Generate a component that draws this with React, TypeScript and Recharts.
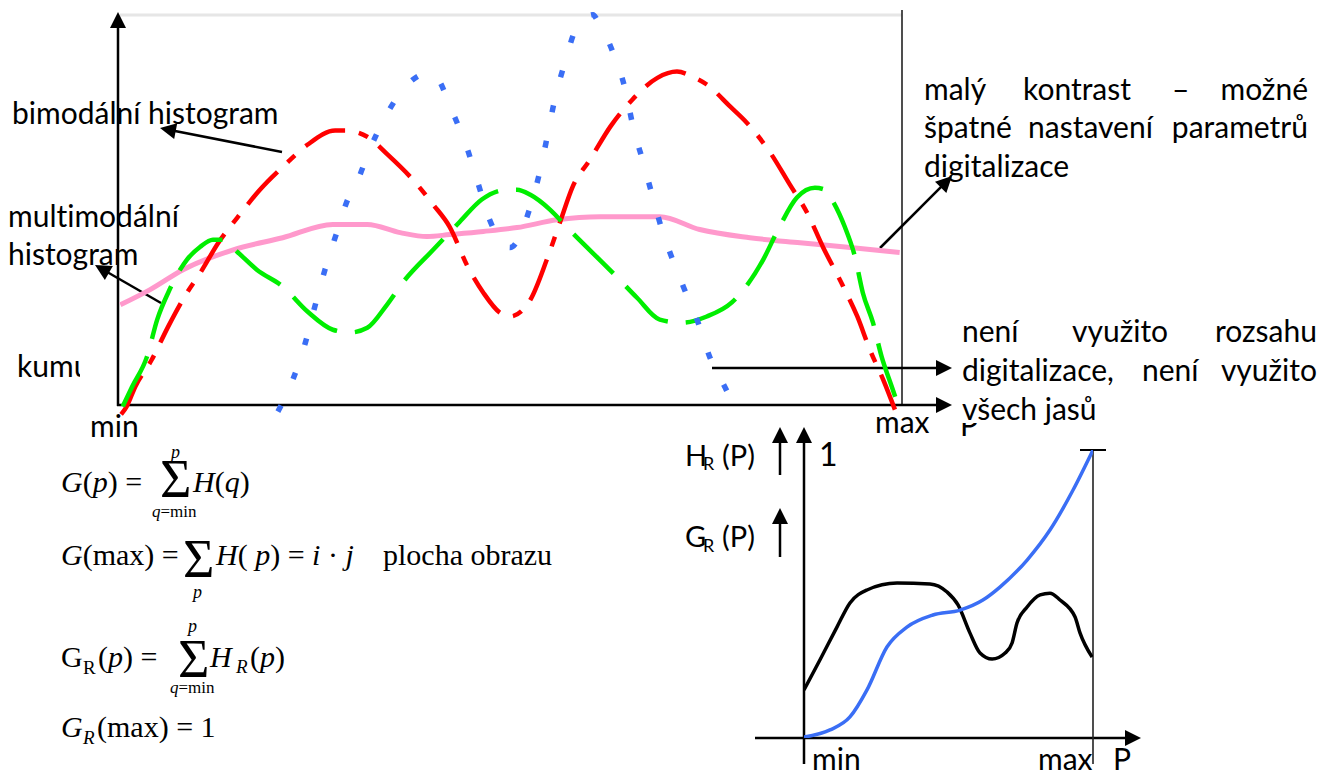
import React from 'react';
import { LineChart, Line, XAxis, YAxis } from 'recharts';

// ---- main histogram chart (x: brightness min..max as 0..100, y: frequency 0..100)
const redSeries = [
  { x: 0.4, y: -2.5 }, { x: 1.1, y: -0.5 }, { x: 2.2, y: 4.6 }, { x: 4.3, y: 11.5 }, { x: 6.4, y: 20 },
  { x: 8.8, y: 28.7 }, { x: 10.5, y: 33.8 }, { x: 12.8, y: 41.5 }, { x: 15.2, y: 47.9 }, { x: 18.1, y: 55.1 },
  { x: 21.3, y: 61.5 }, { x: 24.2, y: 66.7 }, { x: 27.7, y: 70.3 }, { x: 29, y: 70.3 }, { x: 31.8, y: 68.7 },
  { x: 34.4, y: 64.1 }, { x: 37.6, y: 57.7 }, { x: 40.2, y: 51.3 }, { x: 42.3, y: 45.6 }, { x: 44.6, y: 35.4 },
  { x: 46.6, y: 28.7 }, { x: 48.7, y: 23.6 }, { x: 50, y: 22.6 }, { x: 52.6, y: 26.9 }, { x: 54.7, y: 37.2 },
  { x: 56.4, y: 46.9 }, { x: 58, y: 55.9 }, { x: 60.2, y: 62.8 }, { x: 62.8, y: 71.3 }, { x: 65.6, y: 78.2 },
  { x: 68.8, y: 83.8 }, { x: 71.3, y: 85.4 }, { x: 73.3, y: 84.1 }, { x: 75.1, y: 82.1 }, { x: 78.1, y: 76.4 },
  { x: 80.2, y: 72.3 }, { x: 83.2, y: 64.6 }, { x: 85.7, y: 56.4 }, { x: 87.9, y: 49.2 }, { x: 89.9, y: 40.5 },
  { x: 92.5, y: 30.3 }, { x: 94.3, y: 22.6 }, { x: 95.9, y: 14.1 }, { x: 97.6, y: 6.4 }, { x: 99.1, y: -1.3 },
];

const blueSeries = [
  { x: 20.4, y: -1.8 }, { x: 22.3, y: 6.4 }, { x: 23.9, y: 15.9 }, { x: 25.1, y: 25.1 }, { x: 26.4, y: 34.6 },
  { x: 27.9, y: 44.1 }, { x: 29.3, y: 52.6 }, { x: 30.5, y: 57.2 }, { x: 32.1, y: 65.4 }, { x: 34.1, y: 73.8 },
  { x: 36.9, y: 82.1 }, { x: 39.8, y: 85.1 }, { x: 40.7, y: 83.8 }, { x: 42.7, y: 74.9 }, { x: 44.5, y: 65.9 },
  { x: 45.9, y: 56.9 }, { x: 47.4, y: 47.4 }, { x: 50, y: 40.3 }, { x: 52.6, y: 50.8 }, { x: 53.8, y: 59.7 },
  { x: 54.8, y: 69.2 }, { x: 55.7, y: 78.2 }, { x: 57, y: 87.7 }, { x: 58.5, y: 96.7 }, { x: 60.6, y: 100 },
  { x: 61.1, y: 98.7 }, { x: 63.1, y: 90.5 }, { x: 64.7, y: 80.8 }, { x: 65.7, y: 71.3 }, { x: 67, y: 62.1 },
  { x: 68.2, y: 53.3 }, { x: 69.5, y: 44.1 }, { x: 70.4, y: 39 }, { x: 72.1, y: 30.3 }, { x: 74, y: 21 },
  { x: 75.5, y: 12.1 }, { x: 77.7, y: 3.3 }, { x: 78.8, y: -1.8 },
];

const greenSeries = [
  { x: 0.6, y: -0.5 }, { x: 1.8, y: 4.6 }, { x: 3.7, y: 12.3 }, { x: 5, y: 21.8 }, { x: 6.4, y: 28.7 },
  { x: 8.8, y: 37.2 }, { x: 10.5, y: 40.5 }, { x: 12.1, y: 42.3 }, { x: 13.4, y: 42.3 }, { x: 15.2, y: 39.2 },
  { x: 17.7, y: 34.6 }, { x: 21, y: 30.3 }, { x: 24.2, y: 23.8 }, { x: 27.4, y: 19.2 }, { x: 29.6, y: 18.5 },
  { x: 31.8, y: 19.7 }, { x: 34.3, y: 25.6 }, { x: 36.4, y: 31.5 }, { x: 40.2, y: 39.7 }, { x: 43.6, y: 46.9 },
  { x: 46.4, y: 52.6 }, { x: 49.6, y: 55.1 }, { x: 50.9, y: 55.1 }, { x: 52.6, y: 53.8 }, { x: 55.1, y: 50 },
  { x: 57.3, y: 45.4 }, { x: 63.6, y: 32.8 }, { x: 66.2, y: 27.4 }, { x: 69.1, y: 21.8 }, { x: 71.9, y: 21 },
  { x: 75.1, y: 22.6 }, { x: 78.3, y: 26.2 }, { x: 82.3, y: 37.2 }, { x: 84.2, y: 44.9 }, { x: 86.6, y: 53.1 },
  { x: 88.9, y: 55.6 }, { x: 90.2, y: 55.1 }, { x: 91.2, y: 52.1 }, { x: 92.7, y: 45.6 }, { x: 94, y: 37.9 },
  { x: 95, y: 28.7 }, { x: 96.3, y: 21 }, { x: 97.4, y: 12.3 }, { x: 98.7, y: 4.6 }, { x: 99.7, y: -1.3 },
];

const pinkSeries = [
  { x: 0.3, y: 25.6 }, { x: 4.1, y: 29.5 }, { x: 8.3, y: 34.6 }, { x: 14.7, y: 39.7 }, { x: 21, y: 42.8 },
  { x: 27.4, y: 46.2 }, { x: 31.8, y: 46.2 }, { x: 36, y: 44.1 }, { x: 39.4, y: 43.1 }, { x: 42.3, y: 43.6 },
  { x: 46.6, y: 44.4 }, { x: 50.9, y: 45.4 }, { x: 56, y: 47.4 }, { x: 61.5, y: 48.2 }, { x: 69.1, y: 48.2 },
  { x: 74.2, y: 44.9 }, { x: 80.6, y: 42.8 }, { x: 87, y: 41.5 }, { x: 93.4, y: 40.3 }, { x: 99.7, y: 39 },
];

// ---- small chart: relative histogram H_R and cumulative G_R (x 0..100, y 0..1)
const hrSeries = [
  { x: 0, y: 0.167 }, { x: 5.5, y: 0.271 }, { x: 11.4, y: 0.385 }, { x: 15.9, y: 0.469 }, { x: 21.8, y: 0.514 },
  { x: 32.2, y: 0.538 }, { x: 43.6, y: 0.535 }, { x: 49.5, y: 0.507 }, { x: 53.3, y: 0.462 }, { x: 57.4, y: 0.365 },
  { x: 60.9, y: 0.295 }, { x: 65.1, y: 0.274 }, { x: 69.6, y: 0.295 }, { x: 72, y: 0.33 }, { x: 73.7, y: 0.399 },
  { x: 77.2, y: 0.455 }, { x: 81.7, y: 0.497 }, { x: 85.1, y: 0.503 }, { x: 88.6, y: 0.479 }, { x: 93.8, y: 0.42 },
  { x: 95.5, y: 0.365 }, { x: 99.7, y: 0.281 },
];

const grSeries = [
  { x: 0, y: 0.003 }, { x: 9, y: 0.028 }, { x: 15.9, y: 0.073 }, { x: 21.8, y: 0.167 }, { x: 28.7, y: 0.316 },
  { x: 35.6, y: 0.385 }, { x: 44.6, y: 0.427 }, { x: 54, y: 0.444 }, { x: 61.9, y: 0.479 }, { x: 67.8, y: 0.524 },
  { x: 77.2, y: 0.618 }, { x: 85.1, y: 0.722 }, { x: 93.1, y: 0.861 }, { x: 100, y: 1 },
];

const SANS = 'Lato, "Open Sans", sans-serif';
const SERIF = '"Liberation Serif", "DejaVu Serif", serif';

function arrowHead(x1: number, y1: number, x2: number, y2: number, len = 14, half = 7) {
  const dx = x2 - x1;
  const dy = y2 - y1;
  const d = Math.sqrt(dx * dx + dy * dy);
  const ux = dx / d;
  const uy = dy / d;
  const bx = x2 - ux * len;
  const by = y2 - uy * len;
  return `${x2},${y2} ${bx - uy * half},${by + ux * half} ${bx + uy * half},${by - ux * half}`;
}

function Arrow({ x1, y1, x2, y2, w = 2.5, len = 14, half = 7 }: any) {
  const dx = x2 - x1;
  const dy = y2 - y1;
  const d = Math.sqrt(dx * dx + dy * dy);
  const ex = x2 - (dx / d) * (len - 2);
  const ey = y2 - (dy / d) * (len - 2);
  return (
    <g>
      <line x1={x1} y1={y1} x2={ex} y2={ey} stroke="#000" strokeWidth={w} />
      <polygon points={arrowHead(x1, y1, x2, y2, len, half)} fill="#000" />
    </g>
  );
}

const noLig: React.CSSProperties = { fontVariantLigatures: 'none', fontFeatureSettings: '"liga" 0, "clig" 0' };

export default function App() {
  return (
    <div style={{ position: 'absolute', left: 0, top: 0, width: 1328, height: 773, overflow: 'hidden', background: '#fff' }}>
      {/* axes and arrows (under curves) */}
      <svg width={1328} height={773} style={{ position: 'absolute', left: 0, top: 0 }}>
        <line x1={120} y1={15} x2={902} y2={15} stroke="#e6e6e6" strokeWidth={3} />
        <line x1={902} y1={10} x2={902} y2={405} stroke="#222" strokeWidth={1.6} />
        <Arrow x1={118} y1={406} x2={118} y2={12} w={2.5} len={16} half={8} />
        <Arrow x1={117} y1={405} x2={952} y2={405} w={2.5} len={16} half={8} />
        <Arrow x1={712} y1={368} x2={952} y2={368} w={2.5} len={16} half={8} />
        <Arrow x1={880} y1={248} x2={952} y2={176} w={2.5} len={16} half={8} />
        <Arrow x1={282} y1={152} x2={160} y2={128} w={2.5} len={16} half={8} />
        <Arrow x1={161} y1={303} x2={95} y2={265} w={2.5} len={16} half={8} />

        {/* small chart axes */}
        <Arrow x1={780} y1={475} x2={780} y2={427} w={2.5} len={16} half={8} />
        <Arrow x1={780} y1={557} x2={780} y2={508} w={2.5} len={16} half={8} />
        <Arrow x1={804} y1={764} x2={804} y2={427} w={2.5} len={16} half={8} />
        <Arrow x1={755} y1={738} x2={1141} y2={738} w={2.5} len={16} half={8} />
        <line x1={1093} y1={450} x2={1093} y2={764} stroke="#222" strokeWidth={1.6} />
        <line x1={1080} y1={450} x2={1106} y2={450} stroke="#000" strokeWidth={2} />
      </svg>

      <div style={{ position: 'absolute', left: 118, top: 3 }}>
        <LineChart width={784} height={425} margin={{ top: 0, right: 0, bottom: 0, left: 0 }}>
          <XAxis type="number" dataKey="x" domain={[0, 100]} hide />
          <YAxis type="number" dataKey="y" domain={[-6, 103]} hide />
          <Line data={pinkSeries} dataKey="y" type="monotone" stroke="#ff99cc" strokeWidth={5} dot={false} activeDot={false} isAnimationActive={false} />
          <Line data={redSeries} dataKey="y" type="monotone" stroke="#ff0000" strokeWidth={4.5} strokeDasharray="44 14 10 14" dot={false} activeDot={false} isAnimationActive={false} />
          <Line data={greenSeries} dataKey="y" type="monotone" stroke="#00ee00" strokeWidth={4.5} strokeDasharray="56 18" dot={false} activeDot={false} isAnimationActive={false} />
          <Line data={blueSeries} dataKey="y" type="monotone" stroke="#3a6ef5" strokeWidth={5.5} strokeDasharray="7 29" dot={false} activeDot={false} isAnimationActive={false} />
        </LineChart>
      </div>

      <div style={{ position: 'absolute', left: 804, top: 450 }}>
        <LineChart width={289} height={288} margin={{ top: 0, right: 0, bottom: 0, left: 0 }}>
          <XAxis type="number" dataKey="x" domain={[0, 100]} hide />
          <YAxis type="number" dataKey="y" domain={[0, 1]} hide />
          <Line data={hrSeries} dataKey="y" type="monotone" stroke="#000" strokeWidth={3.5} dot={false} activeDot={false} isAnimationActive={false} />
          <Line data={grSeries} dataKey="y" type="monotone" stroke="#3a6ef5" strokeWidth={3.5} dot={false} activeDot={false} isAnimationActive={false} />
        </LineChart>
      </div>

      {/* texts */}
      <svg width={1328} height={773} style={{ position: 'absolute', left: 0, top: 0, ...noLig }}>
        <defs>
          <clipPath id="kumClip">
            <rect x={0} y={340} width={80} height={60} />
          </clipPath>
        </defs>
        <g fontFamily={SANS} fontSize={30} fill="#000">
          <text x={12} y={124}>bimodální histogram</text>
          <text x={8} y={227}>multimodální</text>
          <text x={8} y={265}>histogram</text>
          <text x={17} y={377} clipPath="url(#kumClip)">kumulativní</text>
          <text x={90} y={437}>min</text>
          <text x={875} y={433}>max</text>
          <text x={960} y={436}>P</text>

          <text x={924} y={100}>malý</text>
          <text x={1023} y={100}>kontrast</text>
          <text x={1172} y={100}>–</text>
          <text x={1308} y={100} textAnchor="end">možné</text>
          <text x={924} y={138}>špatné</text>
          <text x={1028} y={138}>nastavení</text>
          <text x={1308} y={138} textAnchor="end">parametrů</text>
          <text x={924} y={177}>digitalizace</text>
        </g>
        <rect x={957} y={318} width={365} height={105} fill="#fff" />
        <g fontFamily={SANS} fontSize={30} fill="#000">
          <text x={962} y={342}>není</text>
          <text x={1072} y={342}>využito</text>
          <text x={1317} y={342} textAnchor="end">rozsahu</text>
          <text x={962} y={381}>digitalizace,</text>
          <text x={1142} y={381}>není</text>
          <text x={1317} y={381} textAnchor="end">využito</text>
          <text x={962} y={420}>všech jasů</text>

          <text x={685} y={466} fontSize={29}>H</text>
          <text x={703} y={470} fontSize={18}>R</text>
          <text x={722} y={466} fontSize={29}>(P)</text>
          <text x={685} y={547} fontSize={29}>G</text>
          <text x={703} y={552} fontSize={18}>R</text>
          <text x={722} y={547} fontSize={29}>(P)</text>
          <text x={819} y={466} fontSize={32}>1</text>
          <text x={812} y={770}>min</text>
          <text x={1038} y={770}>max</text>
          <text x={1113} y={770}>P</text>
        </g>

        {/* formulas */}
        <g fontFamily={SERIF} fontSize={30} fill="#000">
          <text x={61} y={492}><tspan fontStyle="italic">G</tspan>(<tspan fontStyle="italic">p</tspan>) =</text>
          <text x={160} y={497} fontSize={54}>Σ</text>
          <text x={171} y={458} fontSize={18} fontStyle="italic">p</text>
          <text x={152} y={517} fontSize={17}><tspan fontStyle="italic">q</tspan>=min</text>
          <text x={193} y={492}><tspan fontStyle="italic">H</tspan>(<tspan fontStyle="italic">q</tspan>)</text>

          <text x={61} y={565}><tspan fontStyle="italic">G</tspan>(max) =</text>
          <text x={183} y={577} fontSize={54}>Σ</text>
          <text x={193} y={598} fontSize={18} fontStyle="italic">p</text>
          <text x={216} y={565}><tspan fontStyle="italic">H</tspan>( <tspan fontStyle="italic">p</tspan>) = <tspan fontStyle="italic">i</tspan> · <tspan fontStyle="italic">j</tspan></text>
          <text x={383} y={565}>plocha obrazu</text>

          <text x={61} y={667}>G</text>
          <text x={83} y={674} fontSize={19}>R</text>
          <text x={98} y={667}>(<tspan fontStyle="italic">p</tspan>) =</text>
          <text x={178} y={677} fontSize={54}>Σ</text>
          <text x={188} y={632} fontSize={18} fontStyle="italic">p</text>
          <text x={170} y={693} fontSize={17}><tspan fontStyle="italic">q</tspan>=min</text>
          <text x={210} y={667} fontStyle="italic">H</text>
          <text x={236} y={673} fontSize={19} fontStyle="italic">R</text>
          <text x={250} y={667}>(<tspan fontStyle="italic">p</tspan>)</text>

          <text x={61} y={737} fontStyle="italic">G</text>
          <text x={83} y={744} fontSize={19} fontStyle="italic">R</text>
          <text x={97} y={737}>(max) = 1</text>
        </g>
      </svg>
    </div>
  );
}
